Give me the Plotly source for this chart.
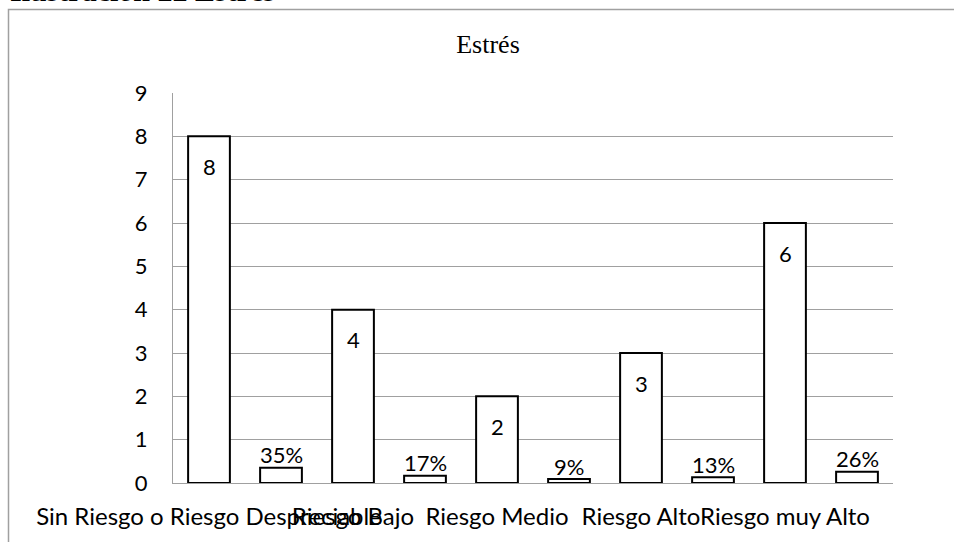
import plotly.graph_objects as go

# Stress-level categories (one label per pair of bars) and bar values
categories = ["Sin Riesgo o Riesgo Despreciable", "Riesgo Bajo", "Riesgo Medio",
              "Riesgo Alto", "Riesgo muy Alto"]
values = [8, 0.35, 4, 0.17, 2, 0.09, 3, 0.13, 6, 0.26]
labels = ["8", "35%", "4", "17%", "2", "9%", "3", "13%", "6", "26%"]

x_pos = list(range(len(values)))
tick_pos = x_pos[::2]

LABEL_FONT = dict(family="Lato", size=22, color="black")

fig = go.Figure(go.Bar(
    x=x_pos, y=values, cliponaxis=False,
    marker=dict(color="white", line=dict(color="black", width=2)),
    width=0.58, hoverinfo="y",
))

# value labels: inside near the top for tall bars, just above for short ones
label_annotations = []
for xi, v, t in zip(x_pos, values, labels):
    inside = v >= 1
    label_annotations.append(dict(
        x=xi, y=v, xref="x", yref="y", text=t, showarrow=False,
        xanchor="center", yanchor="middle",
        yshift=-30 if inside else 13, font=LABEL_FONT,
    ))

L, R, T, B = 173, 61, 93, 59
W, H = 954, 542
pw, ph = W - L - R, H - T - B


def px_x(p):
    return (p - L) / pw


def px_y(p):
    return (H - B - p) / ph


fig.update_layout(
    width=W, height=H,
    margin=dict(l=L, r=R, t=T, b=B),
    paper_bgcolor="white", plot_bgcolor="white",
    showlegend=False,
    title=dict(text="Estrés", x=488 / W, xref="container", xanchor="center",
               y=1 - 44 / H, yanchor="middle",
               font=dict(family="Liberation Serif", size=26, color="black")),
    xaxis=dict(range=[-0.5, 9.5], tickmode="array", tickvals=tick_pos,
               ticktext=categories, tickangle=0, showgrid=False,
               showline=True, linecolor="#a0a0a0", linewidth=1, ticks="",
               ticklabelstandoff=12,
               tickfont=dict(family="Lato", size=24, color="black"), zeroline=False),
    yaxis=dict(range=[0, 9], dtick=1, showgrid=True, gridcolor="#a0a0a0",
               gridwidth=1, showline=True, linecolor="#a0a0a0", linewidth=1,
               ticks="", ticklabelstandoff=20, zeroline=False,
               tickfont=dict(family="Lato", size=22, color="black")),
    shapes=[dict(type="rect", xref="paper", yref="paper",
                 x0=px_x(8.5), x1=px_x(1000), y0=px_y(9.5), y1=px_y(600),
                 line=dict(color="#a0a0a0", width=1.5), layer="below")],
    annotations=label_annotations + [
        dict(text="<b>Ilustración 22 Estrés</b>", xref="paper", yref="paper",
             x=px_x(8), y=px_y(9), xanchor="left", yanchor="bottom",
             showarrow=False,
             font=dict(family="Liberation Serif", size=30, color="black"))],
)

fig.write_html("out.html")
